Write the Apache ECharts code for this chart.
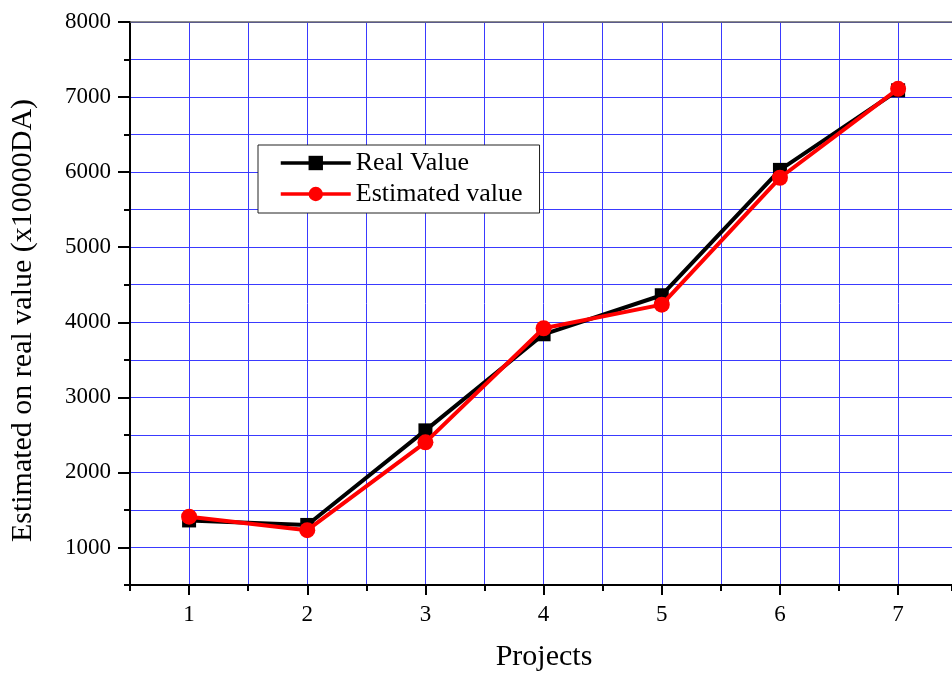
<!DOCTYPE html>
<html>
<head>
<meta charset="utf-8">
<script src="https://cdn.jsdelivr.net/npm/echarts@6/dist/echarts.min.js"></script>
<style>
  html, body { margin: 0; padding: 0; background: #fff; }
  #chart { width: 952px; height: 678px; }
</style>
</head>
<body>
<div id="chart"></div>
<script>
// Project numbers on the horizontal axis
const projects = [1, 2, 3, 4, 5, 6, 7];
// Real and estimated values (x10000 DA)
const realValue = [1360, 1300, 2560, 3840, 4360, 6030, 7090];
const estimatedValue = [1410, 1230, 2400, 3920, 4235, 5925, 7110];
// Labelled ticks
const xTickLabels = [1, 2, 3, 4, 5, 6, 7];
const yTickLabels = [1000, 2000, 3000, 4000, 5000, 6000, 7000, 8000];

const FONT = '"Liberation Serif", "DejaVu Serif", serif';
const GRID_BLUE = '#3a3aff';

const chart = echarts.init(document.getElementById('chart'), null, { renderer: 'canvas' });

// The plot runs past the right edge of the page, so the x range stops where the page does
const baseX = { type: 'value', min: 0.5, max: 7.456, interval: 0.5, gridIndex: 0 };
const baseY = { type: 'value', min: 500, max: 8000, interval: 500, gridIndex: 0 };

chart.setOption({
  animation: false,
  backgroundColor: '#fff',
  grid: { left: 130, top: 22, right: 0, bottom: 93, containLabel: false },
  legend: {
    orient: 'vertical',
    left: 258,
    top: 145,
    padding: [5, 17, 6, 21],
    itemWidth: 70,
    itemHeight: 18,
    itemGap: 5,
    backgroundColor: '#fff',
    borderColor: '#222',
    borderWidth: 1,
    lineStyle: { width: 3.5 },
    textStyle: { fontFamily: FONT, fontSize: 26, color: '#000' },
    data: ['Real Value', 'Estimated value']
  },
  xAxis: [
    Object.assign({}, baseX, {
      position: 'bottom',
      axisLine: { show: true, onZero: false, lineStyle: { color: '#000', width: 2 } },
      axisTick: { show: true, inside: false, length: 6, lineStyle: { color: '#000', width: 2 } },
      axisLabel: { show: false },
      splitLine: { show: true, lineStyle: { color: GRID_BLUE, width: 1 } }
    }),
    Object.assign({}, baseX, {
      position: 'bottom',
      name: 'Projects',
      nameLocation: 'middle',
      nameGap: 57,
      nameTextStyle: { fontFamily: FONT, fontSize: 30, color: '#000', padding: [0, 0, 0, 6] },
      axisLine: { show: false, onZero: false },
      axisTick: { show: true, length: 10, customValues: xTickLabels, lineStyle: { color: '#000', width: 2 } },
      axisLabel: { show: true, customValues: xTickLabels, margin: 18, fontFamily: FONT, fontSize: 23, color: '#000',
                   formatter: v => String(v) },
      splitLine: { show: false }
    }),
    Object.assign({}, baseX, {
      position: 'top',
      axisLine: { show: true, onZero: false, lineStyle: { color: '#666', width: 1.5 } },
      axisTick: { show: false },
      axisLabel: { show: false },
      splitLine: { show: false }
    })
  ],
  yAxis: [
    Object.assign({}, baseY, {
      position: 'left',
      axisLine: { show: true, onZero: false, lineStyle: { color: '#000', width: 2 } },
      axisTick: { show: true, inside: false, length: 6, lineStyle: { color: '#000', width: 2 } },
      axisLabel: { show: false },
      splitLine: { show: true, lineStyle: { color: GRID_BLUE, width: 1 } }
    }),
    Object.assign({}, baseY, {
      position: 'left',
      name: 'Estimated on real value (x10000DA)',
      nameLocation: 'middle',
      nameGap: 92,
      nameTextStyle: { fontFamily: FONT, fontSize: 30, color: '#000', padding: [0, 34, 0, 0] },
      axisLine: { show: false, onZero: false },
      axisTick: { show: true, length: 12, customValues: yTickLabels, lineStyle: { color: '#000', width: 2 } },
      axisLabel: { show: true, customValues: yTickLabels, margin: 19, fontFamily: FONT, fontSize: 23, color: '#000',
                   formatter: v => String(v) },
      splitLine: { show: false }
    })
  ],
  series: [
    {
      name: 'Real Value',
      type: 'line',
      xAxisIndex: 0,
      yAxisIndex: 0,
      data: projects.map((p, i) => [p, realValue[i]]),
      symbol: 'rect',
      symbolSize: 14,
      lineStyle: { color: '#000', width: 4 },
      itemStyle: { color: '#000' },
      z: 3
    },
    {
      name: 'Estimated value',
      type: 'line',
      xAxisIndex: 0,
      yAxisIndex: 0,
      data: projects.map((p, i) => [p, estimatedValue[i]]),
      symbol: 'circle',
      symbolSize: 16,
      lineStyle: { color: '#ff0000', width: 4 },
      itemStyle: { color: '#ff0000' },
      z: 4
    }
  ]
});
</script>
</body>
</html>
